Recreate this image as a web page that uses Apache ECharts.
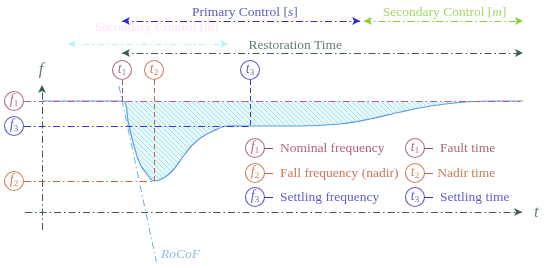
<!DOCTYPE html>
<html><head><meta charset="utf-8">
<script src="https://cdn.jsdelivr.net/npm/echarts@6/dist/echarts.min.js"></script>
<style>html,body{margin:0;padding:0;background:#fff}#c{width:550px;height:268px}</style>
</head><body><div id="c"></div>
<script>
// ---- key quantities (time in arbitrary s, frequency in Hz) ----
const T_FAULT = 5, T_NADIR = 7, T_SETTLE = 13;
const F_NOM = 50, F_SETTLE = 49.5, F_NADIR = 48.4;
// frequency response curve
const curveT = [0, 5, 5.4, 5.7, 6.1, 6.6, 7, 7.6, 8.2, 8.8, 9.4, 10, 10.7, 11.6, 12.4, 16, 18.6, 20.5, 22.4, 24.3, 26.1, 28, 30.06];
const curveF = [50, 50, 49.56, 49.16, 48.76, 48.52, 48.4, 48.46, 48.62, 48.88, 49.12, 49.28, 49.4, 49.5, 49.5, 49.5, 49.54, 49.64, 49.78, 49.9, 49.97, 50, 50];
// labels
const freqSyms = [['f','1',F_NOM,'Nominal frequency'],['f','2',F_NADIR,'Fall frequency (nadir)'],['f','3',F_SETTLE,'Settling frequency']];
const timeSyms = [['t','1',T_FAULT,'Fault time'],['t','2',T_NADIR,'Nadir time'],['t','3',T_SETTLE,'Settling time']];
const topTexts = ['Primary Control [', 's', ']', 'Secondary Control [', 'm', ']', 'Restoration Time'];

const C1 = '#9e4a60', C2 = '#c0643a', C3 = '#3434c8';
const colors = [C1, C2, C3];
const AX = '#3e5c4c';
const SERIF = '"Liberation Serif", "DejaVu Serif", serif';

// layout helpers (data units)
const T_MIN = -2.625, T_MAX = 31.75, F_MIN = 46.66, F_MAX = 52.02;
const tCirc = -1.75, fCirc = 50.62, lineStartT = -1.125, vertTop = 50.42;
const endT = 30.06;

// hatch pattern
const pc = document.createElement('canvas'); pc.width = 5; pc.height = 5;
const cx = pc.getContext('2d');
cx.fillStyle = '#e8f9fc'; cx.fillRect(0,0,5,5);
cx.strokeStyle = '#a9e1eb'; cx.lineWidth = 1;
cx.beginPath(); cx.moveTo(-1,-1); cx.lineTo(6,6); cx.moveTo(-1,4); cx.lineTo(1,6); cx.moveTo(4,-1); cx.lineTo(6,1); cx.stroke();

const DD = [7,3,1.5,3];
function ml(x1,y1,x2,y2,color,type,s1,s2,w){
  return [{coord:[x1,y1], symbol:s1||'none', symbolSize:[6,8], lineStyle:{color:color,type:type,width:w||1}},
          {coord:[x2,y2], symbol:s2||'none', symbolSize:[6,8]}];
}
const lines = [
  ml(0,47.42,0,50.32,AX,DD,'none','arrow'),
  ml(-1.06,47.78,30.0,47.78,AX,DD,'none','arrow'),
  ml(lineStartT,F_NOM,29.9,F_NOM,'#b8607a',DD),
  ml(lineStartT,F_SETTLE,T_SETTLE,F_SETTLE,C3,DD),
  ml(lineStartT,F_NADIR,T_NADIR,F_NADIR,'#b86a40',DD),
  ml(T_FAULT,vertTop,T_FAULT,F_NOM,C1,[5,3]),
  ml(T_NADIR,vertTop,T_NADIR,F_NADIR,'#b86a40',[5,3]),
  ml(T_SETTLE,vertTop,T_SETTLE,F_SETTLE,C3,[5,3]),
  ml(4.81,50.3,7.15,46.78,'#6aaee6',DD),
  ml(T_FAULT,51.6,19.88,51.6,'#2c2ccc',DD,'arrow','arrow'),
  ml(20.12,51.6,endT,51.6,'#86cc32',DD,'arrow','arrow'),
  ml(T_FAULT,50.96,endT,50.96,AX,DD,'arrow','arrow'),
  ml(1.63,51.14,11.63,51.14,'#b6f2f8',DD,'arrow','arrow'),
  ml(13.875,49.06,14.44,49.06,C1,'solid'),
  ml(13.875,48.56,14.44,48.56,C2,'solid'),
  ml(13.875,48.08,14.44,48.08,C3,'solid'),
  ml(23.875,49.06,24.44,49.06,C1,'solid'),
  ml(23.875,48.56,24.44,48.56,C2,'solid'),
  ml(23.875,48.08,24.44,48.08,C3,'solid')
];

const legRows = [49.06, 48.56, 48.08];
const circleData = [];
freqSyms.forEach((s,i)=>{
  circleData.push({value:[tCirc,s[2]], sym:s[0], sub:s[1], itemStyle:{borderColor:colors[i]}, label:{color:colors[i]}});
  circleData.push({value:[13.31,legRows[i]], sym:s[0], sub:s[1], itemStyle:{borderColor:colors[i]}, label:{color:colors[i]}});
});
timeSyms.forEach((s,i)=>{
  circleData.push({value:[s[2],fCirc], sym:s[0], sub:s[1], itemStyle:{borderColor:colors[i]}, label:{color:colors[i]}});
  circleData.push({value:[23.31,legRows[i]], sym:s[0], sub:s[1], itemStyle:{borderColor:colors[i]}, label:{color:colors[i]}});
});

const textColors = ['#a3345a','#c4502c','#3434c8'];
const textData = [];
freqSyms.forEach((s,i)=>textData.push({value:[14.875,legRows[i]], txt:'{a|'+s[3]+'}', label:{color:textColors[i]}}));
timeSyms.forEach((s,i)=>textData.push({value:[i===1?24.7:24.875,legRows[i]], txt:'{a|'+s[3]+'}', label:{color:i===0?'#8e3e4e':(i===1?'#b85a2c':'#3434c8')}}));
textData.push({value:[9.375,51.78], txt:'{a|'+topTexts[0]+'}{i|'+topTexts[1]+'}{a|'+topTexts[2]+'}', label:{color:'#3232b4'}});
textData.push({value:[21.3,51.78], txt:'{a|'+topTexts[3]+'}{i|'+topTexts[4]+'}{a|'+topTexts[5]+'}', label:{color:'#8ccd48'}});
textData.push({value:[12.9,51.12], txt:'{a|'+topTexts[6]+'}', label:{color:AX}});
textData.push({value:[3.3,51.47], txt:'{a|Secondary Control [}{i|m}{a|]}', label:{color:'#fddcf2'}});
textData.push({value:[7.44,46.94], txt:'{i|RoCoF}', label:{color:'#6aaee6'}});
textData.push({value:[-0.2,50.62], txt:'{v|f}', label:{color:AX}});
textData.push({value:[30.75,47.76], txt:'{v|t}', label:{color:AX}});

const curveData = curveT.map((t,i)=>[t,curveF[i]]);

const chart = echarts.init(document.getElementById('c'));
chart.setOption({
  animation:false,
  grid:{left:0,right:0,top:0,bottom:0},
  xAxis:{type:'value',min:T_MIN,max:T_MAX,show:false},
  yAxis:{type:'value',min:F_MIN,max:F_MAX,show:false},
  series:[
    {type:'line', name:'area', data:curveData, smooth:0.35, showSymbol:false,
     lineStyle:{width:0,opacity:0}, areaStyle:{color:{image:pc,repeat:'repeat'},opacity:1,origin:F_NOM}, z:1, silent:true},
    {type:'line', name:'curve', data:curveData, smooth:0.35, showSymbol:false,
     lineStyle:{color:'#5a9ee2',width:1.2}, z:4, silent:true},
    {type:'line', name:'lines', data:[], z:3, silent:true,
     markLine:{silent:true, animation:false, label:{show:false}, emphasis:{disabled:true}, data:lines}},
    {type:'scatter', name:'circles', data:circleData, symbol:'circle', symbolSize:19, z:5, silent:true,
     itemStyle:{color:'#ffffff', borderWidth:1.1},
     label:{show:true, position:'inside', formatter:p=>'{i|'+p.data.sym+'}{s|'+p.data.sub+'}',
       rich:{i:{fontFamily:SERIF,fontStyle:'italic',fontSize:14,padding:[0,0,2,0]}, s:{fontFamily:SERIF,fontSize:9,padding:[6,0,0,0]}}}},
    {type:'scatter', name:'texts', data:textData, symbolSize:0, z:6, silent:true,
     label:{show:true, position:'right', distance:0, formatter:p=>p.data.txt,
       rich:{a:{fontFamily:SERIF,fontSize:13.5}, i:{fontFamily:SERIF,fontSize:13.5,fontStyle:'italic'},
             v:{fontFamily:SERIF,fontSize:17,fontStyle:'italic'}}}}
  ]
});
</script></body></html>
